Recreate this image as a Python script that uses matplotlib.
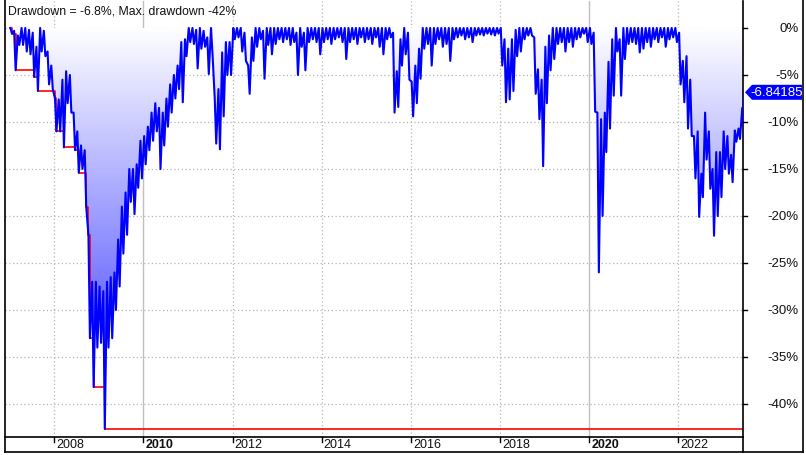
import numpy as np
import matplotlib.pyplot as plt
from matplotlib.colors import LinearSegmentedColormap
from matplotlib.patches import Polygon
from matplotlib.lines import Line2D

plt.rcParams['font.family'] = ['Liberation Sans', 'DejaVu Sans']

# monthly drawdown range (%), Jan 2007 .. Jun 2023: upper and lower value per month
dd_hi = [
    0, -0.3, -0.8, 0, 0, -0.2, -0.5, -2.0, 0, -0.3, -2.5, -4.0,                      # 2007
    -7.5, -7.6, -5.5, -4.6, -5.0, -9.0, -11.0, -12.5, -13.0, -22.0, -27.0, -27.0,    # 2008
    -27.5, -28.0, -27.0, -26.5, -26.0, -22.5, -19.0, -17.5, -15.0, -15.0, -14.5, -12.0,  # 2009
    -11.5, -10.5, -9.0, -8.0, -8.5, -9.0, -7.5, -6.0, -5.0, -4.0, -1.5, -1.2,        # 2010
    0, 0, -0.2, 0, -0.3, -1.0, 0, -7.5, -6.5, -2.6, -1.5, -1.5,                      # 2011
    0, 0, 0, -0.5, -4.0, -1.0, 0, 0, -0.3, 0, 0, 0,                                  # 2012
    0, 0, 0, 0, 0, -0.5, 0, -0.5, 0, 0, 0, 0,                                        # 2013
    0, 0, 0, 0, 0, 0, 0, 0, 0, 0, 0, 0,                                              # 2014
    0, 0, 0, 0, 0, 0, 0, -0.5, -4.6, -1.2, 0, -0.5,                                  # 2015
    -5.7, -4.0, -2.2, 0, 0, 0, 0, 0, 0, 0, 0, 0,                                     # 2016
    0, 0, 0, 0, 0, 0, 0, 0, 0, 0, 0, 0,                                              # 2017
    0, -1.2, -2.2, -1.2, -0.2, 0, 0, 0, 0, -1.0, -4.4, -5.5,                         # 2018
    -2.0, -0.8, 0, 0, 0, 0, 0, 0, 0, 0, 0, 0,                                        # 2019
    0, -0.5, -9.0, -9.7, -9.0, -3.6, -1.2, 0, -1.2, 0, 0, 0,                         # 2020
    0, 0, 0, 0, 0, 0, 0, 0, 0, 0, 0, 0,                                              # 2021
    -0.5, -3.5, -3.0, -5.5, -11.5, -11.0, -15.5, -9.0, -11.0, -15.0, -13.2, -13.2,   # 2022
    -11.0, -11.5, -13.5, -10.9, -10.7, -8.5,                                         # 2023
]
dd_lo = [
    -0.6, -4.5, -1.8, -1.8, -2.5, -2.8, -5.2, -6.7, -2.5, -3.0, -6.0, -6.5,
    -11.0, -11.0, -12.7, -8.0, -9.0, -13.0, -15.4, -15.0, -19.0, -33.0, -38.2, -34.0,
    -33.5, -42.66, -34.0, -33.0, -30.0, -27.5, -24.0, -22.0, -18.5, -19.8, -17.0, -16.0,
    -14.5, -13.0, -12.0, -11.0, -15.0, -12.5, -10.5, -9.0, -7.5, -6.5, -7.9, -3.0,
    -1.5, -1.7, -4.3, -2.2, -2.0, -4.9, -2.8, -12.3, -12.9, -9.4, -5.0, -5.0,
    -1.2, -1.0, -2.5, -3.5, -7.0, -3.5, -2.0, -1.2, -5.4, -1.8, -2.8, -1.7,
    -1.2, -1.5, -1.2, -1.8, -1.5, -5.0, -2.0, -4.5, -1.5, -1.2, -1.5, -2.8,
    -1.5, -1.2, -1.7, -1.2, -1.0, -1.5, -3.3, -1.5, -1.2, -1.7, -1.0, -1.5,
    -1.2, -1.7, -1.0, -2.0, -2.8, -1.2, -1.0, -9.0, -8.4, -4.0, -2.8, -5.5,
    -9.4, -8.0, -5.4, -2.2, -1.7, -4.0, -1.7, -1.2, -2.0, -1.7, -3.5, -1.2,
    -1.0, -0.8, -1.2, -1.0, -1.5, -0.8, -0.7, -0.8, -0.6, -0.7, -0.8, -0.6,
    -4.0, -7.9, -7.6, -6.7, -3.0, -2.5, -1.2, -0.8, -0.8, -7.0, -9.7, -14.7,
    -8.0, -4.5, -3.3, -1.7, -1.5, -2.5, -1.5, -2.0, -1.2, -1.0, -0.6, -1.5,
    -1.7, -8.9, -26.0, -20.0, -13.2, -10.7, -7.2, -2.5, -7.2, -3.3, -1.7, -1.5,
    -1.7, -2.6, -2.2, -1.5, -2.0, -1.2, -1.5, -1.0, -2.0, -1.2, -1.0, -1.5,
    -6.0, -7.9, -10.7, -11.5, -16.0, -20.1, -18.0, -14.0, -17.1, -22.1, -20.0, -18.0,
    -15.0, -15.5, -16.4, -12.1, -11.8, -10.5,
]
last_dd = -6.84185
start_year = 2007
y_ticks = [0, -5, -10, -15, -20, -25, -30, -35, -40]
year_ticks = [2008, 2010, 2012, 2014, 2016, 2018, 2020, 2022]
bold_years = [2010, 2020]

# build the zigzag path (hi then lo inside each month)
n = len(dd_hi)
t = []
v = []
for i in range(n):
    t += [start_year + (i + 0.2) / 12, start_year + (i + 0.6) / 12]
    v += [dd_hi[i], dd_lo[i]]
t.append(start_year + (n - 0.45) / 12)
v.append(last_dd)
t = np.array(t)
v = np.array(v)
max_dd = np.minimum.accumulate(v)

W, H = 806, 456
fig = plt.figure(figsize=(W / 100, H / 100), dpi=100)
ax = fig.add_axes([5 / W, (H - 438) / H, (743 - 5) / W, (438 - 2) / H])

xmin, xmax = 2006.895, 2023.45
ymin, ymax = -43.51, 2.87

# grid
for yv in y_ticks:
    ax.axhline(yv, color='#b4b4b4', lw=0.9, ls=(0, (1, 2)), zorder=0)
for yr in year_ticks:
    if yr in bold_years:
        ax.axvline(yr, color='#c0c0c0', lw=1.0, zorder=0)
    else:
        ax.axvline(yr, color='#b4b4b4', lw=0.9, ls=(0, (1, 2)), zorder=0)

# gradient fill under the drawdown
poly = ax.fill_between(t, v, 0, facecolor='none', edgecolor='none')
grad = np.linspace(0, 1, 256).reshape(-1, 1)
cmap = LinearSegmentedColormap.from_list('dd', ['#ffffff', '#2a2aff'])
im = ax.imshow(grad, extent=[xmin, xmax, ymin, 0], origin='upper', aspect='auto',
               cmap=cmap, zorder=1, interpolation='bilinear')
im.set_clip_path(poly.get_paths()[0], transform=ax.transData)

ax.plot(t, max_dd, color='#ff0000', lw=1.2, drawstyle='steps-post', zorder=2)
ax.plot(t, v, color='#0000ff', lw=1.5, zorder=3)

ax.set_xlim(xmin, xmax)
ax.set_ylim(ymin, ymax)
ax.set_xticks([])
ax.set_yticks([])
for s in ['top', 'left']:
    ax.spines[s].set_visible(False)
ax.spines['bottom'].set_linewidth(1.2)
ax.spines['right'].set_linewidth(1.2)

ax.text(0.004, 0.978, 'Drawdown = -6.8%, Max. drawdown -42%',
        transform=ax.transAxes, fontsize=8.8, va='center', ha='left', color='#111111')

# figure-space helpers (pixels from top-left)
def fx(px):
    return px / W

def fy(py):
    return 1 - py / H

frame = dict(color='black', lw=1.2, transform=fig.transFigure)
fig.add_artist(Line2D([fx(4.5), fx(4.5)], [fy(0), fy(452.5)], **frame))
fig.add_artist(Line2D([fx(4.5), fx(802.5)], [fy(452.5), fy(452.5)], **frame))
fig.add_artist(Line2D([fx(802.5), fx(802.5)], [fy(0), fy(452.5)], **frame))
fig.add_artist(Line2D([fx(743), fx(743)], [fy(438), fy(452.5)], **frame))

# x ticks and labels
for yr in year_ticks:
    xp = 5 + (yr - xmin) / (xmax - xmin) * 738
    fig.add_artist(Line2D([fx(xp), fx(xp)], [fy(438), fy(443)], color='black', lw=1.0,
                          transform=fig.transFigure))
    fig.text(fx(xp + 2), fy(445.5), str(yr), fontsize=9, va='center', ha='left',
             fontweight='bold' if yr in bold_years else 'normal', color='#111111')

# y ticks and labels on the right
for yv in y_ticks:
    yp = 2 + (ymax - yv) / (ymax - ymin) * 436
    fig.add_artist(Line2D([fx(743), fx(747)], [fy(yp), fy(yp)], color='black', lw=1.0,
                          transform=fig.transFigure))
    fig.text(fx(799), fy(yp), f'{yv}%', fontsize=9.5, va='center', ha='right', color='#111111')

# last value tag
yp = 2 + (ymax - last_dd) / (ymax - ymin) * 436
tag = Polygon([[fx(745), fy(yp)], [fx(752), fy(yp - 7.5)], [fx(802), fy(yp - 7.5)],
               [fx(802), fy(yp + 7.5)], [fx(752), fy(yp + 7.5)]],
              closed=True, facecolor='#0000ff', edgecolor='none', transform=fig.transFigure)
fig.add_artist(tag)
fig.text(fx(777), fy(yp), f'{last_dd:.5f}', fontsize=9.5, va='center', ha='center', color='white')

fig.savefig('out.png', dpi=100)
